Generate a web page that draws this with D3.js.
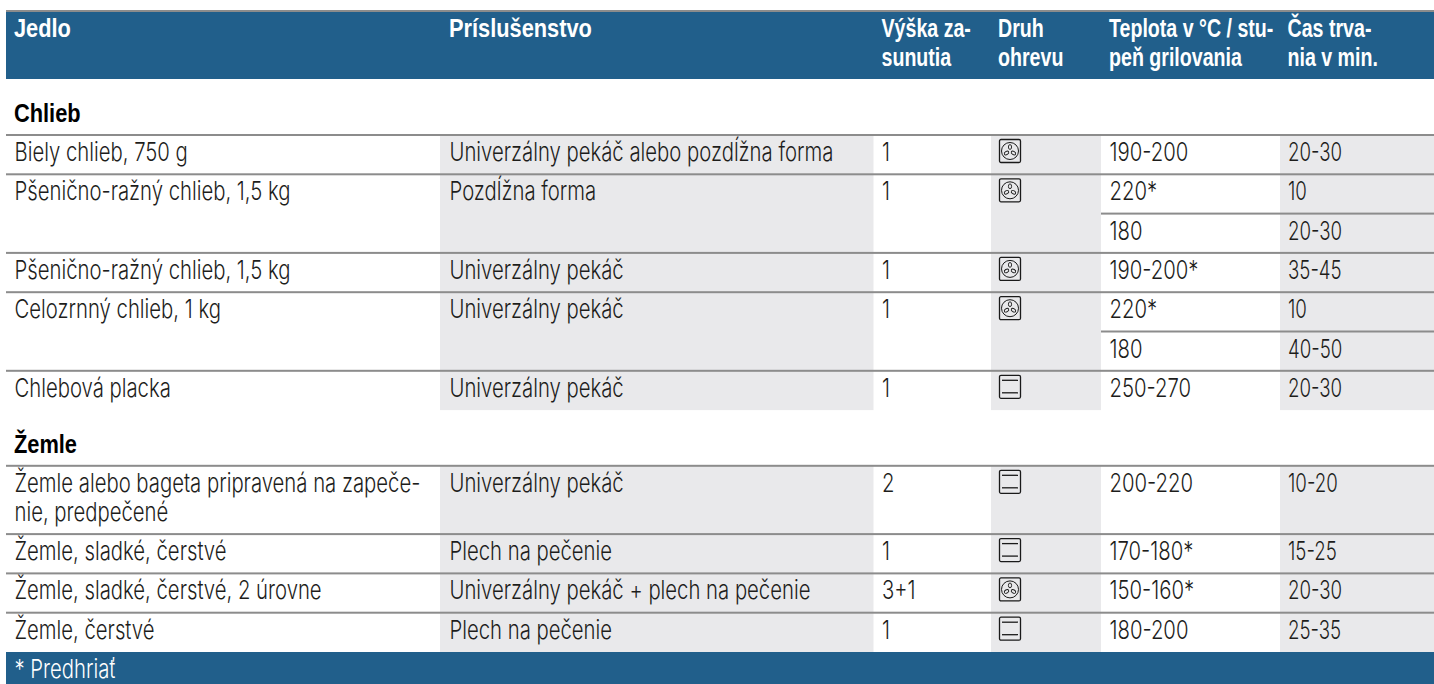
<!DOCTYPE html>
<html><head><meta charset="utf-8">
<script src="https://cdn.jsdelivr.net/npm/d3@7"></script>
<style>html,body{margin:0;padding:0;background:#fff;overflow:hidden}svg{display:block}</style>
</head><body><svg id="c" width="1434" height="684"></svg>
<script>
const columns = ["food","accessory","level","mode","temp","time"];
const header1 = ["Jedlo","Príslušenstvo","Výška za-","Druh","Teplota v °C / stu-","Čas trva-"];
const header2 = ["","","sunutia","ohrevu","peň grilovania","nia v min."];
const groups = ["Chlieb","Žemle"];
const rowGroup = [0,0,0,0,0,1,1,1,1];
const foods = [["Biely chlieb, 750 g"],["Pšenično-ražný chlieb, 1,5 kg"],["Pšenično-ražný chlieb, 1,5 kg"],["Celozrnný chlieb, 1 kg"],["Chlebová placka"],
  ["Žemle alebo bageta pripravená na zapeče-","nie, predpečené"],["Žemle, sladké, čerstvé"],["Žemle, sladké, čerstvé, 2 úrovne"],["Žemle, čerstvé"]];
const accessories = ["Univerzálny pekáč alebo pozdĺžna forma","Pozdĺžna forma","Univerzálny pekáč","Univerzálny pekáč","Univerzálny pekáč","Univerzálny pekáč","Plech na pečenie","Univerzálny pekáč + plech na pečenie","Plech na pečenie"];
const levels = ["1","1","1","1","1","2","1","3+1","1"];
const modes = ["fan","fan","fan","fan","heat","heat","heat","fan","heat"];
const temps = [["190-200"],["220*","180"],["190-200*"],["220*","180"],["250-270"],["200-220"],["170-180*"],["150-160*"],["180-200"]];
const times = [["20-30"],["10","20-30"],["35-45"],["10","40-50"],["20-30"],["10-20"],["15-25"],["20-30"],["25-35"]];
const footnote = "* Predhriať";

const BLUE="#215f8b", GREY="#e9e9eb", LINE="#8c8c8c", INK="#1d1d1b";
const svg=d3.select("#c");
const W=1434, L=6;
const xEdge=d3.scaleOrdinal(columns,[6,440,873.5,991,1101,1280]);
const xText=d3.scaleOrdinal(columns,[14.5,449.5,882,998.5,1109.5,1288]);
const nextEdge=c=>{const i=columns.indexOf(c);return i<columns.length-1?xEdge(columns[i+1]):W;};
const unit=d3.scaleLinear().domain([0,1]).range([0,39.3]);
const LINE2=29, SECTION=55.7, HEADER_TOP=10, HEADER_BOTTOM=79, FIRST=135;

const lightFont={family:"Inter, 'Liberation Sans', sans-serif",weight:300,size:26};
const boldFont={family:"'Liberation Sans', Arial, sans-serif",weight:700,size:26};
function measure(str,f){const t=svg.append("text").text(str).attr("font-family",f.family).attr("font-weight",f.weight).attr("font-size",f.size);const w=t.node().getComputedTextLength();t.remove();return w;}
const lightFit=384/measure(accessories[0],lightFont);
const timeFit=lightFit*0.92;
const boldFit=133/measure(header2[4],boldFont);
const boldWide=143/measure(header1[1],boldFont);
function txt(g,str,x,y,f,fit,color){
  const lines=[].concat(str);
  const t=g.append("text").attr("transform",`translate(${x},${y}) scale(${fit},1)`)
   .attr("font-family",f.family).attr("font-weight",f.weight).attr("font-size",f.size).attr("fill",color);
  lines.forEach((s,k)=>t.append("tspan").attr("x",0).attr("y",k*LINE2).text(s));
}
let y=FIRST, prev=-1; const rows=[];
rowGroup.forEach((g,i)=>{
  if(g!==prev&&prev!==-1) y+=SECTION;
  const h=Math.max(unit(temps[i].length), unit(1)+(foods[i].length-1)*LINE2);
  rows.push({i,g,top:y,h,newGroup:g!==prev}); prev=g; y+=h;
});
const bottom=y;
const gStripe=svg.append("g"), gLine=svg.append("g"), gText=svg.append("g");

gStripe.append("rect").attr("x",L).attr("y",HEADER_TOP).attr("width",W-L).attr("height",HEADER_BOTTOM-HEADER_TOP).attr("fill",BLUE);
gStripe.append("rect").attr("x",L).attr("y",bottom).attr("width",W-L).attr("height",684-bottom).attr("fill",BLUE);
gLine.append("rect").attr("x",L).attr("y",HEADER_TOP).attr("width",W-L).attr("height",2).attr("fill",LINE);

rows.forEach(r=>["accessory","mode","time"].forEach(c=>{
  gStripe.append("rect").attr("x",xEdge(c)).attr("y",r.top).attr("width",nextEdge(c)-xEdge(c)).attr("height",r.h).attr("fill",GREY);
}));
columns.forEach((c,i)=>{
  const fit=i<2?boldWide:boldFit;
  txt(gText,header1[i],xText(c)-.5,37,boldFont,fit,"#fff");
  if(header2[i]) txt(gText,header2[i],xText(c)-.5,66,boldFont,fit,"#fff");
});
function hline(x0,yy){gLine.append("rect").attr("x",x0).attr("y",yy-1).attr("width",W-x0).attr("height",2).attr("fill",LINE);}
function icon(g,kind,x,y0){
  const n=g.append("g").attr("transform",`translate(${x},${y0})`);
  n.append("rect").attr("x",.5).attr("y",.5).attr("width",21).attr("height",23).attr("rx",1.5).attr("fill","none").attr("stroke","#1a1a1a").attr("stroke-width",1.3);
  if(kind==="heat"){
    [5.5,18].forEach(v=>n.append("line").attr("x1",3).attr("x2",19).attr("y1",v).attr("y2",v).attr("stroke","#1a1a1a").attr("stroke-width",1.3));
  } else {
    n.append("circle").attr("cx",11).attr("cy",12).attr("r",8.5).attr("fill","none").attr("stroke","#1a1a1a").attr("stroke-width",1);
    [0,120,240].forEach(a=>n.append("ellipse").attr("cx",11).attr("cy",8).attr("rx",1.6).attr("ry",2.4).attr("transform",`rotate(${a} 11 12)`).attr("fill","none").attr("stroke","#1a1a1a").attr("stroke-width",.9));
  }
}
rows.forEach(r=>{
  const base=r.top+26;
  if(r.newGroup){ txt(gText,groups[r.g],14,r.top-13,boldFont,boldWide,"#000"); }
  hline(L,r.top);
  txt(gText,foods[r.i],xText("food"),base,lightFont,lightFit,INK);
  txt(gText,accessories[r.i],xText("accessory"),base,lightFont,lightFit,INK);
  txt(gText,levels[r.i],xText("level"),base,lightFont,lightFit,INK);
  icon(gText,modes[r.i],xText("mode")+.5,r.top+4);
  temps[r.i].forEach((s,k)=>{
    const yy=r.top+unit(k);
    if(k>0) hline(xEdge("temp"),yy);
    txt(gText,s,xText("temp"),yy+26,lightFont,lightFit,INK);
    txt(gText,times[r.i][k],xText("time"),yy+26,lightFont,timeFit,INK);
  });
});
txt(gText,footnote,14.5,678,lightFont,lightFit,"#fff");
</script></body></html>
